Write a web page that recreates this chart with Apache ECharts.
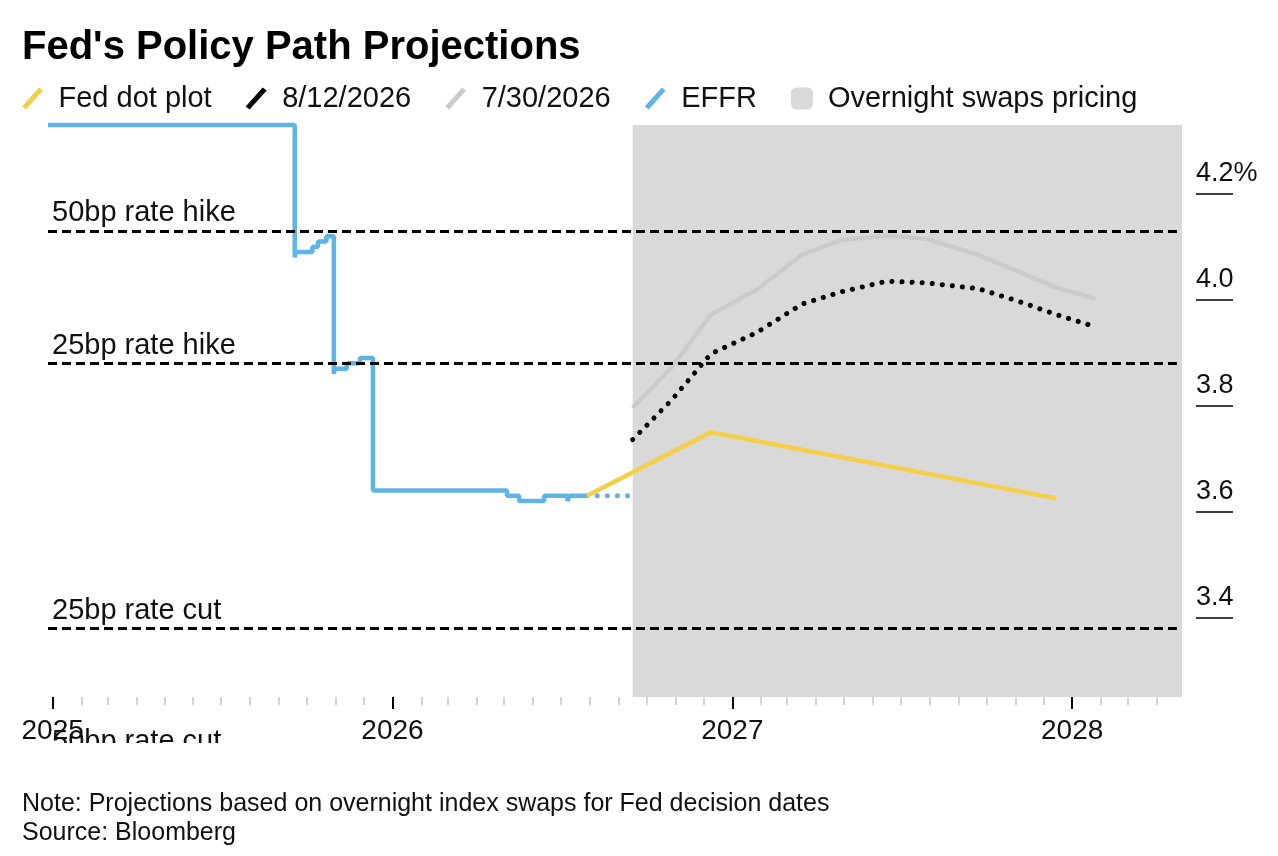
<!DOCTYPE html>
<html>
<head>
<meta charset="utf-8">
<title>Fed's Policy Path Projections</title>
<script src="https://cdn.jsdelivr.net/npm/echarts@6/dist/echarts.min.js"></script>
<style>
  html, body { margin: 0; padding: 0; background: #fff; }
  #chart { width: 1278px; height: 856px; }
</style>
</head>
<body>
<div id="chart"></div>
<script>
// EFFR fixes, only the days it moved (step line)
var effrDates = ['2024-12-27', '2025-09-18', '2025-09-19', '2025-10-07', '2025-10-13', '2025-10-22',
    '2025-10-30', '2025-10-31', '2025-11-13', '2025-11-27', '2025-12-11', '2026-05-04',
    '2026-05-17', '2026-06-13', '2026-07-08', '2026-07-10', '2026-07-29'];
var effrValues = [4.33, 4.08, 4.09, 4.10, 4.11, 4.12,
    3.86, 3.87, 3.88, 3.89, 3.64, 3.63,
    3.62, 3.63, 3.62, 3.63, 3.63];
// last fix carried to the first swap-priced meeting
var effrTailDates = ['2026-07-29', '2026-09-16'];
var effrTailValues = [3.63, 3.63];

var dotPlotDates = ['2026-07-29', '2026-12-09', '2027-12-15'];
var dotPlotValues = [3.63, 3.75, 3.625];

// Fed decision dates priced off overnight index swaps
var meetingDates = ['2026-09-16', '2026-10-28', '2026-12-09', '2027-01-27', '2027-03-17', '2027-04-28',
    '2027-06-16', '2027-07-28', '2027-09-22', '2027-11-03', '2027-12-15', '2028-01-26'];
var swaps0812 = [3.736, 3.811, 3.898, 3.938, 3.992, 4.015, 4.035, 4.032, 4.021, 3.998, 3.972, 3.949];
var swaps0730 = [3.796, 3.873, 3.972, 4.019, 4.085, 4.113, 4.121, 4.115, 4.085, 4.054, 4.023, 4.002];

var refLevels = [4.13, 3.88, 3.38];
var refLabels = ['50bp rate hike', '25bp rate hike', '25bp rate cut'];
var offLevel = 3.13, offLabel = '50bp rate cut';

var yTicks = [3.4, 3.6, 3.8, 4.0, 4.2];
var yearTicks = ['2025-01-01', '2026-01-01', '2027-01-01', '2028-01-01'];
var xStart = '2024-12-27', xEnd = '2028-04-28';

var FONT = '"Liberation Sans", Arial, Helvetica, sans-serif';
var YELLOW = '#f5cf48', BLUE = '#5fb3e6', LIGHT = '#cbcbcb', SHADE = '#d9d9d9';
var SLASH = 'path://M0,19 L17,0 L21,3 L4,22 Z';

function ts(s) {
    var p = s.split('-');
    return new Date(+p[0], p[1] - 1, +p[2]).getTime();
}
function pairs(dates, values) {
    return dates.map(function (d, i) { return [ts(d), values[i]]; });
}

// month starts for the light minor ticks
var monthTicks = [];
for (var y = 2025; y <= 2028; y++) {
    for (var m = 1; m < 12; m++) {
        var t = new Date(y, m, 1).getTime();
        if (t < ts(xEnd)) monthTicks.push(t);
    }
}

var chart = echarts.init(document.getElementById('chart'));

chart.setOption({
    animation: false,
    textStyle: { fontFamily: FONT },
    title: [
        {
            text: "Fed's Policy Path Projections",
            left: 22, top: 28, padding: 0,
            textStyle: { fontSize: 40, fontWeight: 'bold', color: '#000', fontFamily: FONT }
        },
        {
            text: 'Note: Projections based on overnight index swaps for Fed decision dates\nSource: Bloomberg',
            left: 22, top: 790, padding: 0,
            textStyle: { fontSize: 25, fontWeight: 'normal', color: '#111', lineHeight: 29, fontFamily: FONT }
        }
    ],
    legend: {
        left: 22, top: 84, padding: 0,
        itemWidth: 22, itemHeight: 22, itemGap: 34,
        selectedMode: false,
        itemStyle: { borderWidth: 0 },
        textStyle: { fontSize: 29, color: '#111', padding: [0, 0, 0, 10], fontFamily: FONT },
        data: [
            { name: 'Fed dot plot', icon: SLASH, itemStyle: { color: YELLOW } },
            { name: '8/12/2026', icon: SLASH, itemStyle: { color: '#000' } },
            { name: '7/30/2026', icon: SLASH, itemStyle: { color: LIGHT } },
            { name: 'EFFR', icon: SLASH, itemStyle: { color: BLUE } },
            { name: 'Overnight swaps pricing', icon: 'roundRect', itemStyle: { color: SHADE } }
        ]
    },
    grid: { left: 48, right: 96, top: 125, bottom: 159 },
    xAxis: [
        {
            type: 'value', min: ts(xStart), max: ts(xEnd),
            axisLine: { show: false },
            splitLine: { show: false },
            axisTick: { show: true, length: 12, customValues: yearTicks.map(ts), lineStyle: { color: '#000', width: 2 } },
            axisLabel: {
                customValues: yearTicks.map(ts), margin: 20, fontSize: 28, color: '#111',
                formatter: function (v) { return String(new Date(v).getFullYear()); }
            }
        },
        {
            type: 'value', min: ts(xStart), max: ts(xEnd), position: 'bottom',
            axisLine: { show: false },
            splitLine: { show: false },
            axisTick: { show: true, length: 8, customValues: monthTicks, lineStyle: { color: '#c4c4c4', width: 1.5 } },
            axisLabel: { show: false }
        }
    ],
    yAxis: {
        type: 'value', position: 'right', min: 3.25, max: 4.33, offset: 14,
        axisLine: { show: false },
        splitLine: { show: false },
        axisTick: { show: true, inside: false, length: 37, customValues: yTicks, lineStyle: { color: '#000', width: 1.5 } },
        axisLabel: {
            customValues: yTicks, margin: 0, align: 'left', verticalAlign: 'bottom',
            padding: [0, 0, 7, 0], fontSize: 27, color: '#111',
            formatter: function (v) { return v > 4.19 ? v.toFixed(1) + '%' : v.toFixed(1); }
        }
    },
    series: [
        {
            name: 'Overnight swaps pricing', type: 'line', data: [],
            itemStyle: { color: SHADE },
            markArea: {
                silent: true,
                itemStyle: { color: SHADE, opacity: 1 },
                data: [[{ xAxis: ts(meetingDates[0]) }, { xAxis: ts(xEnd) }]]
            }
        },
        {
            name: 'refs', type: 'line', data: [],
            markLine: {
                silent: true, symbol: ['none', 'none'],
                lineStyle: { color: '#000', width: 3, type: [9, 5] },
                label: {
                    position: 'insideStartTop', distance: [4, 3],
                    fontSize: 29, color: '#111', fontFamily: FONT,
                    formatter: function (p) { return p.name; }
                },
                data: refLevels.map(function (v, i) { return { name: refLabels[i], yAxis: v }; })
            }
        },
        {
            name: '7/30/2026', type: 'line', showSymbol: false, color: LIGHT,
            lineStyle: { width: 4.5, color: LIGHT },
            data: pairs(meetingDates, swaps0730)
        },
        {
            name: '8/12/2026', type: 'line', showSymbol: false, color: '#000',
            lineStyle: { width: 5, color: '#000', type: [0.1, 10], cap: 'round' },
            data: pairs(meetingDates, swaps0812)
        },
        {
            name: 'EFFR', type: 'line', step: 'end', showSymbol: false, clip: false, color: BLUE,
            lineStyle: { width: 4.5, color: BLUE },
            data: pairs(effrDates, effrValues)
        },
        {
            name: 'EFFR', type: 'line', showSymbol: false, color: BLUE,
            lineStyle: { width: 5, color: BLUE, type: [0.1, 10], cap: 'round' },
            data: pairs(effrTailDates, effrTailValues)
        },
        {
            name: 'Fed dot plot', type: 'line', showSymbol: false, color: YELLOW,
            lineStyle: { width: 4.5, color: YELLOW },
            data: pairs(dotPlotDates, dotPlotValues)
        }
    ]
});

// the 50bp cut line sits below the axis range; only the top of its label shows
var offY = chart.convertToPixel({ yAxisIndex: 0 }, offLevel);
chart.setOption({
    graphic: [
        {
            type: 'text', left: 52, top: offY - 33, z: 100,
            style: { text: offLabel, fontSize: 29, fontFamily: FONT, fill: '#111' }
        },
        {
            type: 'rect', left: 30, top: 743, z: 101,
            shape: { width: 400, height: 40 },
            style: { fill: '#fff' }
        }
    ]
});
</script>
</body>
</html>
